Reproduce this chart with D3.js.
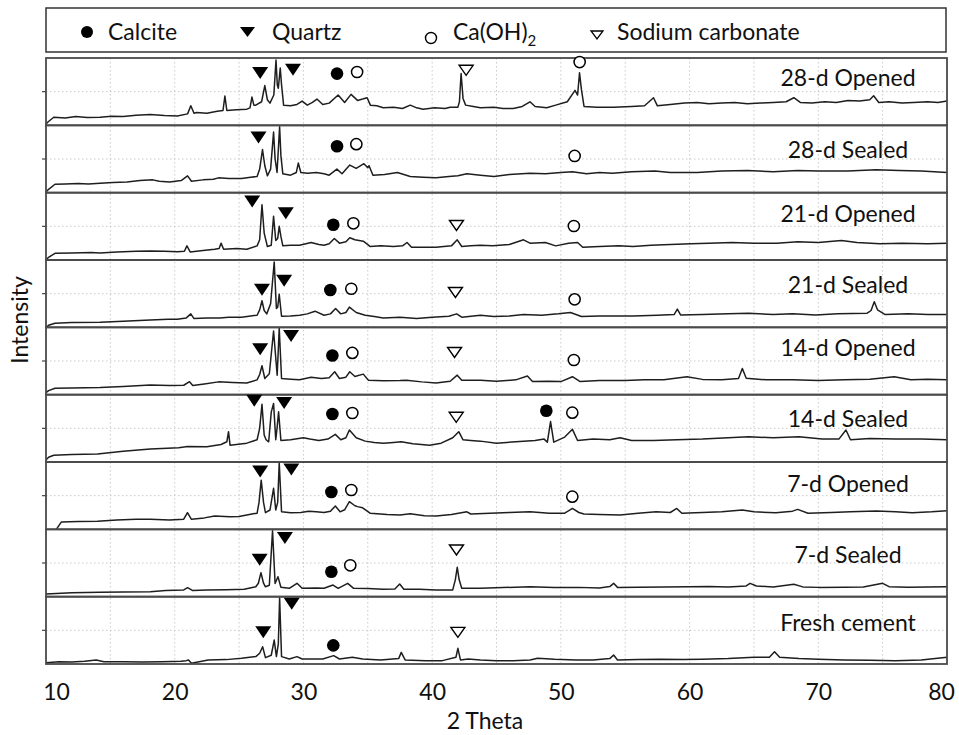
<!DOCTYPE html>
<html><head><meta charset="utf-8">
<script src="https://cdn.jsdelivr.net/npm/d3@7"></script>
<style>body{margin:0;background:#fff}svg{display:block}</style>
</head><body><svg id="c" width="959" height="735"></svg>
<script>
// ---------------- DATA ----------------
const panelNames = ["28-d Opened","28-d Sealed","21-d Opened","21-d Sealed","14-d Opened","14-d Sealed","7-d Opened","7-d Sealed","Fresh cement"];
const xTicks = [10,20,30,40,50,60,70,80];
const gridTicks = [15,20,25,30,35,40,45,50,55,60,65,70,75];
const legendLabels = ["Calcite","Quartz","Ca(OH)","Sodium carbonate"];

// intensity in % of panel height, per 2-theta
const s28o = [[10,2],[10.15,5],[10.6,12],[11.5,11],[12.3,13],[13.2,11.5],[14.2,12],[15.1,13.5],[16,13],[17,15],[18.1,16],[19.2,14.5],[20.2,14],[21.0,17],[21.25,29],[21.5,18],[21.7,19],[22.5,18],[23.3,21],[23.75,22],[23.9,43.5],[24.05,22],[24.8,23],[25.6,24],[25.85,26],[26.0,42],[26.15,30],[26.3,30],[26.75,35],[27.0,59],[27.2,38],[27.4,33],[27.7,45],[27.87,97],[27.97,60],[28.05,55],[28.2,85],[28.3,60],[28.46,30],[29.0,29],[29.5,31],[29.9,36],[30.3,30],[30.7,34],[31.05,39],[31.5,31],[32.0,33],[32.7,45],[33.2,34],[33.7,46],[34.2,37],[34.6,39],[34.95,41],[35.2,30],[35.7,29],[36.2,26],[37.0,27],[37.7,25],[38.3,30],[38.8,26],[39.3,24],[40.2,26],[41.0,25],[41.4,27],[42.0,27],[42.12,35],[42.25,77],[42.4,40],[42.6,30],[43.2,28],[43.75,26],[44.8,27],[45.5,25],[46.3,25],[47.0,28],[47.6,35],[48.0,28],[48.9,26],[49.6,30],[50.5,35],[51.1,52],[51.3,45],[51.45,78],[51.6,53],[51.8,28],[52.8,27],[54.1,27],[55.5,28],[56.5,29],[57.2,41],[57.5,29],[58.5,31],[59.6,33],[60.6,34],[61.5,32],[62.5,33],[63.5,34],[64.5,32],[65.5,33],[66.5,34],[67.5,35],[68.1,41],[68.6,34],[69.5,33],[70.5,35],[71.4,34],[72.3,37],[73.2,36],[74.0,38],[74.3,44],[74.7,34],[75.5,35],[76.5,33],[77.4,34],[78.5,35],[79.3,34],[80,36]];
const s28s = [[10,1],[10.2,5],[10.7,12.5],[11.5,13],[12.5,13.5],[13.3,13],[14.2,14],[15.2,15],[16.3,16],[17.3,18],[18.3,19],[18.8,17],[19.6,16],[20.5,18],[21.0,25],[21.3,17],[22.2,19],[23.0,20],[23.4,22],[24.2,21],[25.2,21],[25.9,23],[26.4,24],[26.6,35],[26.82,64],[27.0,40],[27.2,25],[27.45,35],[27.68,90],[27.8,50],[27.95,30],[28.15,98],[28.25,55],[28.4,28],[29.0,26],[29.45,30],[29.6,44],[29.8,30],[30.3,29],[31.0,30],[31.6,28],[32.0,26],[32.6,35],[33.0,28],[33.6,41],[34.1,36],[34.7,43],[35.0,37],[35.1,40],[35.4,26],[36.3,27],[37.3,30],[38.3,24],[39.3,23],[40.3,22],[41.3,24],[42.0,25],[42.7,28],[43.75,26],[44.8,24],[46.0,27],[47.6,29],[48.8,28],[50.0,30],[50.9,31],[52.0,28],[53.0,30],[54.0,29],[55.5,31],[57.3,32],[58.5,30],[60.6,30],[62.5,32],[64.5,33],[66.5,31],[68.4,33],[70.0,32],[72.3,32],[74.5,34],[76.3,33],[78.0,32],[80,30]];
const s21o = [[10,0],[10.2,4],[10.7,10],[12.0,10.5],[13.5,11],[14.2,10.5],[15.5,12],[17.0,13],[18.1,13.4],[19.2,13],[20.2,12.4],[20.75,13],[20.95,21],[21.2,12],[22.2,14],[23.1,16],[23.45,17],[23.6,25],[23.8,16],[24.8,17],[25.6,16],[26.4,21],[26.6,30],[26.78,82],[26.95,40],[27.2,20],[27.5,22],[27.68,65],[27.85,29],[28.0,32],[28.12,50],[28.25,35],[28.4,21],[29.0,22],[29.7,22],[30.6,26],[31.2,23],[31.6,22],[32.0,24],[32.4,32],[32.8,25],[33.3,27],[33.6,33],[34.0,30],[34.65,28],[35.2,20],[36.0,21],[37.0,20],[37.7,21],[38.05,26],[38.4,19],[39.3,19],[40.3,19],[41.5,21],[41.95,30],[42.3,20],[43.0,21],[43.75,22],[44.7,21],[46.0,23],[47.1,30],[47.6,25],[48.8,26],[49.6,21],[50.6,25],[51.3,26],[51.7,19],[53.0,20],[54.5,21],[55.6,20],[57.0,22],[58.5,23],[60.1,24],[61.5,25],[63.3,26],[65.0,25],[66.8,25],[68.4,27],[70.0,26],[71.8,29],[73.0,26],[74.8,24],[76.5,25],[78.5,24],[80,25]];
const s21s = [[10,0],[10.2,3],[10.7,6],[12.0,7],[14.2,7.4],[16.0,9],[18.1,11],[19.5,12],[20.2,12],[20.9,14],[21.25,20],[21.5,13],[22.5,14],[23.5,14],[24.2,15],[25.2,15],[26.4,18],[26.6,26],[26.78,39.5],[26.95,25],[27.15,20],[27.45,35],[27.73,97],[27.9,28],[28.0,30],[28.12,49],[28.3,16.5],[29.0,17],[29.7,18],[30.3,20],[30.9,24],[31.6,18],[32.1,20],[32.5,28],[32.9,20],[33.3,22],[33.57,30],[34.1,22],[34.8,18],[35.5,16],[36.2,14],[37.5,15],[38.8,13],[40.0,15],[41.3,16.5],[41.9,20],[42.3,15],[43.75,18],[44.8,16],[46.0,17],[47.1,19],[48.5,18],[49.8,20],[50.75,22],[51.6,16],[53.0,17],[55.6,17],[57.5,18],[58.8,19],[59.05,27],[59.3,18.5],[61.0,19],[63.0,20],[64.6,21],[66.5,19],[68.0,20],[69.8,18.5],[71.5,20],[73.8,21],[74.1,25],[74.35,38],[74.6,26],[75.2,19],[77.0,20],[78.5,19],[80,19]];
const s14o = [[10,3],[10.2,6],[10.7,9.5],[12.0,10],[14.2,10.5],[16.0,12],[18.1,14.4],[19.6,13.5],[20.7,14],[21.15,19.3],[21.4,13.5],[22.3,16],[23.4,19],[24.5,18],[25.6,17.4],[26.4,22],[26.6,30],[26.78,43],[27.0,24],[27.35,31],[27.68,94.6],[27.96,29],[28.12,98.6],[28.3,24],[29.0,23],[29.7,22],[30.6,26],[31.4,24],[32.0,25],[32.43,34],[32.8,24],[33.3,26],[33.6,34],[34.0,27],[34.65,30.5],[35.05,21.5],[36.2,20.5],[37.5,21],[38.0,21.5],[39.2,19],[40.3,17.4],[41.4,20],[41.95,29],[42.3,21.5],[43.75,21.5],[45.0,20],[46.5,22],[47.4,27.7],[47.8,19.4],[49.0,20],[50.0,19.4],[50.9,26.7],[51.5,19.4],[53.0,21],[55.0,21],[56.5,22],[58.0,22],[59.8,26.7],[61.0,22.7],[62.5,22],[63.8,24],[64.1,39],[64.4,24.3],[66.0,22],[68.0,22],[70.0,21],[72.0,22],[74.0,23],[75.9,26.7],[77.2,22],[78.5,23],[80,22]];
const s14s = [[10,3],[10.2,7],[10.6,10],[12.0,11],[14.0,12],[16.0,16],[18.1,19.3],[20.3,21.3],[21.0,23],[22.5,22.8],[23.6,26],[24.05,30],[24.18,45],[24.3,25],[25.6,28],[26.4,33],[26.6,50],[26.78,85.6],[26.95,40],[27.1,33],[27.3,30],[27.5,74],[27.68,87],[27.85,33],[27.95,50],[28.07,74.7],[28.25,32],[29.0,33],[30.0,36],[30.5,34],[31.2,32],[31.9,34],[32.48,41],[32.9,33],[33.3,36],[33.57,47.5],[34.1,36],[34.8,31],[35.5,29],[36.2,28],[37.0,29],[37.6,30],[38.5,27],[39.8,25],[40.7,28],[41.6,36],[42.07,45],[42.4,33],[43.0,32],[43.75,31],[45.0,28],[46.5,30],[48.0,32],[48.7,34],[48.95,29.5],[49.2,60],[49.45,29.5],[50.3,37],[50.9,48.5],[51.3,32],[52.5,34],[53.8,33],[54.6,36],[55.5,32],[57.2,32],[59.0,33],[61.0,34],[63.0,36],[64.6,37.5],[66.5,36],[68.5,37.5],[70.3,34],[71.6,34],[72.15,47.5],[72.5,33],[74.0,35],[76.0,34],[78.0,34],[80,33]];
const s7o = [[10.8,0],[10.85,1.5],[11.2,11],[12.5,11.5],[14.0,12],[15.5,14],[17.0,15],[18.1,15],[19.6,14],[20.7,15],[20.99,24.7],[21.3,14.8],[22.3,17],[23.1,19.8],[24.3,18.8],[25.0,19],[26.1,23],[26.4,24],[26.55,40],[26.72,73],[26.9,40],[27.05,24.7],[27.4,28.7],[27.68,61],[27.85,28.7],[28.0,40],[28.12,99],[28.3,26],[29.0,24.7],[29.8,25],[30.4,27],[31.0,26],[31.6,25],[32.1,27],[32.48,34.6],[32.85,26],[33.2,29],[33.57,41],[34.0,35],[34.2,33.7],[34.6,32],[35.2,23.8],[36.5,22],[37.5,21.3],[38.3,23],[39.4,20],[40.3,19.8],[41.5,22],[42.7,26],[43.0,22.8],[44.5,24],[46.0,25],[47.6,26],[49.1,23.8],[50.3,24],[50.9,31],[51.4,25],[51.8,22.8],[53.0,22],[54.6,21.3],[56.0,24],[57.4,26],[58.5,25],[59.0,31],[59.4,23.8],[61.0,25],[62.5,26],[64.1,28.7],[65.0,26],[66.7,24.7],[68.0,27],[68.4,29.7],[69.2,23.8],[71.0,25],[72.5,26],[74.5,27.2],[76.0,26],[77.3,24.7],[78.8,26],[80,27.7]];
const s7s = [[10,4],[12.0,6],[14.2,6.4],[16.0,7],[18.1,7.4],[19.3,9],[20.7,10],[21.0,13.3],[21.4,9],[22.5,10],[24.0,10.4],[25.4,11],[26.3,14.7],[26.5,20],[26.7,35.6],[26.9,20],[27.05,14.7],[27.35,17],[27.6,98],[27.8,19.5],[28.02,29.7],[28.25,14],[28.9,12.4],[29.5,19.8],[29.9,12.4],[31.0,13],[31.6,12.4],[32.3,17.3],[32.7,12.4],[33.44,19.8],[33.9,12.4],[35.0,12],[36.2,11],[37.1,11.5],[37.48,18.8],[37.8,11],[39.0,11],[40.3,10],[41.6,10],[41.8,25],[41.95,43.6],[42.1,25],[42.3,12.4],[43.75,12.4],[45.5,13.5],[47.6,14.8],[49.5,13.5],[51.4,13.8],[53.0,13],[53.8,15],[54.1,19.8],[54.4,13.8],[56.0,14],[58.0,14.5],[59.9,14.8],[61.5,15],[63.0,14.5],[64.4,16],[64.7,19.8],[65.2,15.8],[66.5,14.5],[68.1,18.3],[68.8,14.5],[70.0,13.8],[72.0,14],[73.5,14.5],[75.0,19.8],[75.5,14.8],[77.0,14],[78.5,14.5],[80,14.8]];
const fresh = [[10,2],[11.0,3.5],[12.0,3],[13.0,4],[13.9,6],[14.5,3.5],[16.0,3.5],[17.5,3],[19.0,3.5],[20.5,4],[20.9,5],[21.07,6],[21.3,1],[22.6,6],[24.0,6.5],[25.2,8.4],[26.3,11],[26.6,16],[26.83,25.7],[27.05,9.4],[27.5,13],[27.73,35.6],[27.9,11],[28.05,30],[28.15,98.5],[28.3,11],[28.9,7.4],[29.5,11],[29.9,7.4],[31.5,7.4],[32.35,12.4],[32.8,7.4],[33.8,10],[34.6,7.4],[36.0,6],[37.4,8],[37.6,17.3],[37.9,6],[39.5,5],[40.8,5],[41.85,10],[42.0,23.3],[42.2,6],[42.8,7.4],[43.75,6],[45.0,5],[46.3,5],[47.6,6],[48.2,8.4],[49.5,7],[51.2,6],[52.5,6],[53.8,8],[54.1,13.4],[54.4,6],[56.0,6.5],[57.7,7],[59.5,6.5],[61.0,7],[63.0,8],[65.0,10],[66.2,10],[66.6,18.3],[67.0,10],[68.5,8],[70.0,7],[72.0,6],[74.0,5.5],[76.0,5],[78.0,6],[80,10]];
const seriesList = [s28o,s28s,s21o,s21s,s14o,s14s,s7o,s7s,fresh];

// phase markers: [panel index, 2-theta, height %]
const calcite = [[0,32.61,76.8],[1,32.61,69],[2,32.32,52.4],[3,32.09,55.4],[4,32.25,58.2],[5,32.25,71.3],[5,48.87,76.2],[6,32.17,55.4],[7,32.17,37.1],[8,32.32,27.7]];
const quartz = [[0,26.64,77.7],[0,29.19,82.7],[1,26.51,82],[2,26.02,86.9],[2,28.63,69.4],[3,26.78,55.9],[3,28.5,69],[4,26.64,67.4],[4,29.04,87.2],[5,26.18,91],[5,28.5,87.6],[6,26.64,86],[6,29.06,88.8],[7,26.6,54.8],[7,28.56,87.2],[8,26.88,47.2],[8,29.09,89.6]];
const portlandite = [[0,34.17,79.2],[0,51.46,94],[1,34.11,72],[1,51.07,54.5],[2,33.88,54.5],[2,51.01,50.5],[3,33.72,57.3],[3,51.07,41.6],[4,33.8,62],[4,51.01,51.5],[5,33.8,72.8],[5,50.89,73.3],[6,33.72,58.4],[6,50.89,48.5],[7,33.64,46.6]];
const sodium = [[0,42.64,81.7],[2,41.89,51.2],[3,41.81,51.7],[4,41.74,62.7],[5,41.87,66.4],[7,41.89,69.4],[8,42.0,47]];

// ---------------- LAYOUT ----------------
const FONT = "Lato, 'Open Sans', sans-serif";
const labelDy = [28,33,29,33,29,32,30,34,34];
const svg = d3.select("#c");
const L=46, R=947, T=58, B=664;
const x = d3.scaleLinear().domain([10,80]).range([L,R]);
const band = d3.scaleBand().domain(d3.range(panelNames.length)).range([T,B]);
const ph = band.bandwidth();
const yFor = i => d3.scaleLinear().domain([0,100]).range([band(i)+ph, band(i)]);

// grid
const grid = svg.append("g").attr("stroke","#c9c9c9").attr("stroke-width",1).attr("stroke-dasharray","1.5,2.5");
grid.selectAll("line.v").data(gridTicks).join("line")
  .attr("x1",d=>x(d)).attr("x2",d=>x(d)).attr("y1",T).attr("y2",B);
grid.selectAll("line.h").data(d3.range(panelNames.length)).join("line")
  .attr("x1",L).attr("x2",R).attr("y1",i=>yFor(i)(50)).attr("y2",i=>yFor(i)(50));

// left small ticks
svg.append("g").attr("stroke","#444").attr("stroke-width",1.2)
  .selectAll("line").data(d3.range(panelNames.length)).join("line")
  .attr("x1",L-4).attr("x2",L).attr("y1",i=>yFor(i)(50)).attr("y2",i=>yFor(i)(50));

// lines
seriesList.forEach((s,i)=>{
  const y = yFor(i);
  const line = d3.line().x(d=>x(d[0])).y(d=>y(d[1]));
  svg.append("path").datum(s).attr("d",line).attr("fill","none")
    .attr("stroke","#1e1e1e").attr("stroke-width",1.5).attr("stroke-linejoin","round");
});

// panel frames
svg.append("g").selectAll("rect").data(d3.range(panelNames.length)).join("rect")
  .attr("x",L).attr("y",i=>band(i)).attr("width",R-L).attr("height",ph)
  .attr("fill","none").attr("stroke","#4a4a4a").attr("stroke-width",1.8);

// panel labels
svg.append("g").selectAll("text").data(panelNames).join("text")
  .attr("x",848).attr("y",(d,i)=>band(i)+labelDy[i]).attr("text-anchor","middle")
  .attr("font-family",FONT).attr("font-size",23).attr("fill","#111").text(d=>d);

// markers
const tri = (cx,cy,w,h,down)=> down
  ? `M${cx-w/2},${cy-h/2}L${cx+w/2},${cy-h/2}L${cx},${cy+h/2}Z`
  : `M${cx-w/2},${cy+h/2}L${cx+w/2},${cy+h/2}L${cx},${cy-h/2}Z`;
const mk = svg.append("g");
mk.selectAll("circle.cal").data(calcite).join("circle")
  .attr("cx",d=>x(d[1])).attr("cy",d=>yFor(d[0])(d[2])).attr("r",6.3).attr("fill","#000");
mk.selectAll("circle.por").data(portlandite).join("circle")
  .attr("cx",d=>x(d[1])).attr("cy",d=>yFor(d[0])(d[2])).attr("r",5.6)
  .attr("fill","#fff").attr("stroke","#000").attr("stroke-width",1.5);
mk.selectAll("path.q").data(quartz).join("path")
  .attr("d",d=>{const cx=x(d[1]),cy=yFor(d[0])(d[2]);return `M${cx-8},${cy-6}L${cx+8},${cy-6}L${cx},${cy+6}Z`;})
  .attr("fill","#000");
mk.selectAll("path.na").data(sodium).join("path")
  .attr("d",d=>{const cx=x(d[1]),cy=yFor(d[0])(d[2]);return `M${cx-7},${cy-5}L${cx+7},${cy-5}L${cx},${cy+5}Z`;})
  .attr("fill","#fff").attr("stroke","#000").attr("stroke-width",1.4);

// x axis
const ax = svg.append("g").attr("transform",`translate(0,${B})`)
  .call(d3.axisBottom(x).tickValues(xTicks).tickSize(0).tickFormat(d3.format("d")));
ax.select(".domain").remove();
ax.selectAll("text").attr("y",36).attr("dy",0).attr("font-family",FONT).attr("font-size",23).attr("fill","#111")
  .attr("dx",d=>d===10?10:(d===80?-6:0));

svg.append("text").attr("x",485).attr("y",729).attr("text-anchor","middle")
  .attr("font-family",FONT).attr("font-size",23).attr("fill","#111").text("2 Theta");
svg.append("text").attr("transform","translate(28,320) rotate(-90)").attr("text-anchor","middle")
  .attr("font-family",FONT).attr("font-size",23).attr("fill","#111").text("Intensity");

// legend
const lg = svg.append("g");
lg.append("rect").attr("x",L).attr("y",8).attr("width",R-L-1).attr("height",44)
  .attr("fill","#fff").attr("stroke","#333").attr("stroke-width",1.5);
lg.append("circle").attr("cx",87).attr("cy",32).attr("r",6).attr("fill","#000");
lg.append("path").attr("d",tri(247.5,32,15,10,true)).attr("fill","#000");
lg.append("circle").attr("cx",431).attr("cy",38).attr("r",5.5).attr("fill","#fff").attr("stroke","#000").attr("stroke-width",1.4);
lg.append("path").attr("d",tri(597,35,12,8,true)).attr("fill","#fff").attr("stroke","#000").attr("stroke-width",1.3);
const lx = [108,272,453,617];
legendLabels.forEach((t,i)=>{
  const tx = lg.append("text").attr("x",lx[i]).attr("y",39.5)
    .attr("font-family",FONT).attr("font-size",23).attr("fill","#111").text(t);
  if(i===2) tx.append("tspan").attr("font-size",15).attr("dy",6).text("2");
});
</script></body></html>
